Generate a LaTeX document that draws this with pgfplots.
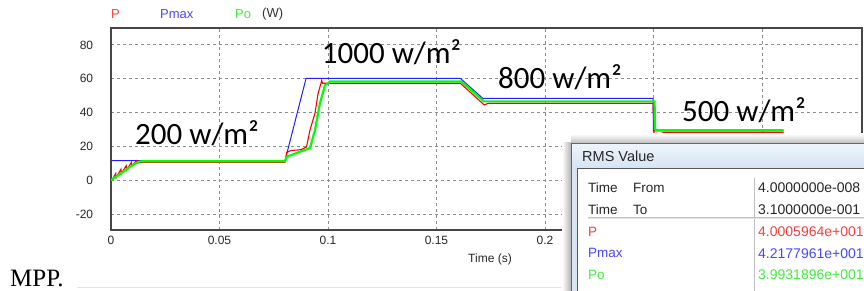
\documentclass[border=0pt]{standalone}
\usepackage{pgfplots}
\pgfplotsset{compat=1.18}
\usepackage{fontspec}
\setmainfont{Liberation Sans}
\newfontfamily\carlito{Carlito}
\newfontfamily\serifmpp{Liberation Serif}
\definecolor{cP}{RGB}{255,0,0}
\definecolor{cPmax}{RGB}{30,30,255}
\definecolor{cPo}{RGB}{0,255,0}
\definecolor{tP}{RGB}{255,60,60}
\definecolor{tPmax}{RGB}{70,70,255}
\definecolor{tPo}{RGB}{60,240,60}
\definecolor{frame}{RGB}{70,70,70}
\definecolor{gridc}{RGB}{140,140,140}
\definecolor{titlebarA}{RGB}{238,244,251}
\definecolor{titlebarB}{RGB}{214,228,243}
\begin{document}
\begin{tikzpicture}[x=1pt,y=1pt]
\useasboundingbox (0,0) rectangle (864,291);
\begin{scope}
\clip (0,0) rectangle (864,291);
\begin{axis}[
  at={(111pt,61pt)}, anchor=south west,
  scale only axis, width=751pt, height=202pt,
  xmin=0, xmax=0.3461, ymin=-29.5, ymax=90,
  axis line style={frame, line width=1.3pt},
  xtick={0,0.05,0.1,0.15,0.2,0.25,0.3},
  xticklabels={0,0.05,0.1,0.15,0.2,0.25,0.3},
  ytick={-20,0,20,40,60,80},
  yticklabels={-20,0,20,40,60,80},
  major tick length=0pt,
  tick label style={font=\fontsize{12}{13}\selectfont, text=black!85},
  yticklabel style={xshift=-14.3pt},
  xticklabel style={yshift=-2.3pt},
  grid=major,
  major grid style={gridc, line width=0.8pt, dash pattern=on 3pt off 3pt},
  xlabel={Time (s)},
  every axis x label/.style={at={(axis description cs:0.5,0)}, anchor=center, yshift=-29pt, xshift=3.5pt, font=\fontsize{12}{13}\selectfont, text=black!85},
  clip=true,
]
% Pmax
\addplot[cPmax, line width=1pt] coordinates {
 (0,11.5) (0.0802,11.5) (0.0899,60.2) (0.161,60.2) (0.1714,48.3) (0.2498,48.3) (0.2500,29.1) (0.31,29.1)
};
% P
\addplot[cP, line width=1.1pt] coordinates {
 (0,-1) (0.0022,4) (0.0024,1.5) (0.0046,6.5) (0.0048,4) (0.0070,8.5) (0.0072,6) (0.0094,10.5) (0.0096,8.5) (0.0118,11.5) (0.0120,10) (0.013,10.6)
 (0.0802,10.6) (0.081,16.5) (0.083,17.5) (0.0875,18) (0.0901,19.6) (0.0917,29.6) (0.094,39.5) (0.0954,51) (0.0971,58.9) (0.0975,57.3) (0.1,57.3)
 (0.161,57.3) (0.172,44.5) (0.174,45.5) (0.2498,45.5) (0.2502,30) (0.2505,22) (0.2515,27) (0.252,23) (0.253,27.5) (0.255,28.2) (0.31,28.2)
};
% Po
\addplot[cPo, line width=2.2pt] coordinates {
 (0,0) (0.0041,3.5) (0.0088,7.9) (0.0126,10.8) (0.0145,11.2) (0.0802,11.2) (0.081,13.8) (0.0871,16.8) (0.0917,19) (0.094,29.6) (0.0963,45.5) (0.0986,56) (0.1009,58.3)
 (0.1615,58.3) (0.1718,46.6) (0.2505,46.6) (0.2507,30.2) (0.2515,29.5) (0.31,29.5)
};
\end{axis}
% annotations
\node[anchor=base west, inner sep=0pt, font=\carlito\fontsize{31}{33}\selectfont] at (135,146.7) {200 w/m²};
\node[anchor=base west, inner sep=0pt, font=\carlito\fontsize{31}{33}\selectfont] at (321.7,227.7) {1000 w/m²};
\node[anchor=base west, inner sep=0pt, font=\carlito\fontsize{31}{33}\selectfont] at (498,202.7) {800 w/m²};
\node[anchor=base west, inner sep=0pt, font=\carlito\fontsize{31}{33}\selectfont] at (682,169.3) {500 w/m²};
% legend-like header
\node[anchor=west, inner sep=0pt, font=\fontsize{13}{14}\selectfont, text=tP] at (111,277) {P};
\node[anchor=west, inner sep=0pt, font=\fontsize{13}{14}\selectfont, text=tPmax] at (160,277) {Pmax};
\node[anchor=west, inner sep=0pt, font=\fontsize{13}{14}\selectfont, text=tPo] at (235,277) {Po};
\node[anchor=west, inner sep=0pt, font=\fontsize{13}{14}\selectfont, text=black!80] at (262,277) {(W)};
% page text
\node[anchor=base west, inner sep=0pt, font=\serifmpp\fontsize{25}{27}\selectfont] at (10,4.3) {MPP.};
\draw[black!10, line width=0.8pt] (77,4) -- (563,4);
% RMS window
\shade[left color=white, right color=black!30] (562,-1) rectangle (571,148);
\shade[bottom color=black!25, top color=white] (571,148) rectangle (870,157);
\fill[titlebarB] (571,-1) rectangle (870,148);
\shade[top color=titlebarA, bottom color=titlebarB] (572,123) rectangle (870,147);
\draw[black!60, line width=0.8pt] (571,-1) |- (870,148);
\fill[white] (577,-1) rectangle (870,123);
\draw[black!65, line width=0.8pt] (577,-1) |- (870,123);
\node[anchor=west, inner sep=0pt, font=\fontsize{14.5}{15}\selectfont, text=black!85] at (582,135) {RMS Value};
\draw[black!25, line width=0.8pt] (754,113) -- (754,-1);
\draw[black!25, line width=0.8pt] (588,73.7) -- (870,73.7);
\draw[black!10, line width=0.8pt] (588,72.5) -- (870,72.5);
\begin{scope}[every node/.style={anchor=west, inner sep=0pt, font=\fontsize{13.5}{14}\selectfont}]
\node[text=black!85] at (588,103.3) {Time};
\node[text=black!85] at (633,103.3) {From};
\node[text=black!85] at (588,81.3) {Time};
\node[text=black!85] at (633,81.3) {To};
\node[text=tP] at (588,59.3) {P};
\node[text=tPmax] at (588,37.7) {Pmax};
\node[text=tPo] at (588,16) {Po};
\end{scope}
\begin{scope}[every node/.style={anchor=west, inner sep=0pt, font=\fontsize{14}{15}\selectfont}]
\node[text=black!85] at (758,103.3) {4.0000000e-008};
\node[text=black!85] at (758,81.3) {3.1000000e-001};
\node[text=tP] at (758,59.3) {4.0005964e+001};
\node[text=tPmax] at (758,37.7) {4.2177961e+001};
\node[text=tPo] at (758,16) {3.9931896e+001};
\end{scope}
\end{scope}
\end{tikzpicture}
\end{document}
